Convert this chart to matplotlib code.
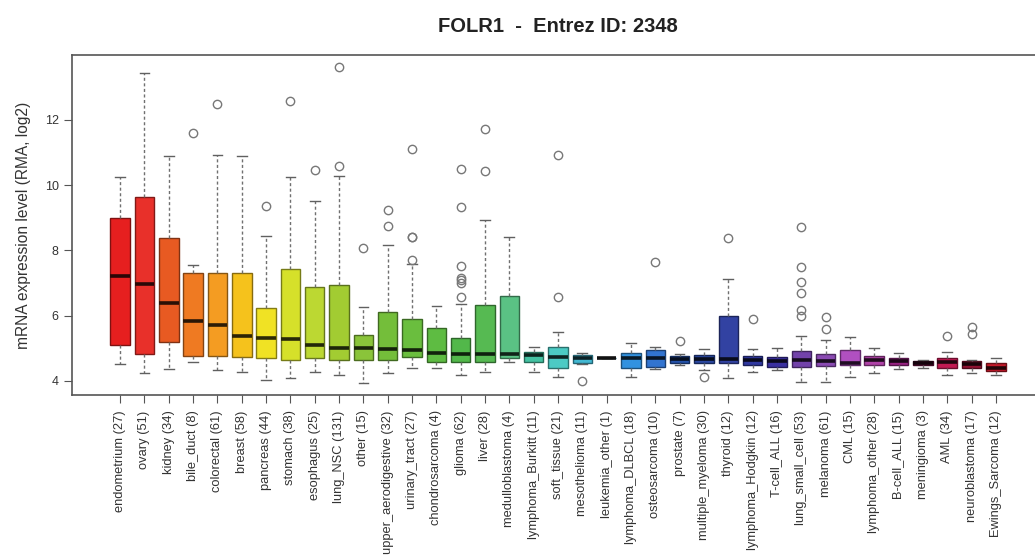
import numpy as np
import matplotlib
matplotlib.use("Agg")
import matplotlib.pyplot as plt
import matplotlib.colors as mcolors

plt.rcParams['font.family'] = ['Liberation Sans', 'DejaVu Sans']

# per-lineage summary stats of FOLR1 expression (RMA, log2)
lineages = ["endometrium", "ovary", "kidney", "bile_duct", "colorectal", "breast",
            "pancreas", "stomach", "esophagus", "lung_NSC", "other",
            "upper_aerodigestive", "urinary_tract", "chondrosarcoma", "glioma", "liver",
            "medulloblastoma", "lymphoma_Burkitt", "soft_tissue", "mesothelioma",
            "leukemia_other", "lymphoma_DLBCL", "osteosarcoma", "prostate",
            "multiple_myeloma", "thyroid", "lymphoma_Hodgkin", "T-cell_ALL",
            "lung_small_cell", "melanoma", "CML", "lymphoma_other", "B-cell_ALL",
            "meningioma", "AML", "neuroblastoma", "Ewings_Sarcoma"]
counts = [27, 51, 34, 8, 61, 58, 44, 38, 25, 131, 15, 32, 27, 4, 62, 28, 4, 11, 21, 11,
          1, 18, 10, 7, 30, 12, 12, 16, 53, 61, 15, 28, 15, 3, 34, 17, 12]

q1 = [5.09, 4.84, 5.18, 4.77, 4.77, 4.72, 4.69, 4.64, 4.69, 4.63, 4.63, 4.64, 4.72,
      4.58, 4.58, 4.58, 4.69, 4.58, 4.41, 4.54, 4.69, 4.41, 4.44, 4.56, 4.54, 4.54,
      4.48, 4.43, 4.43, 4.46, 4.49, 4.49, 4.49, 4.48, 4.41, 4.41, 4.31]
med = [7.21, 6.96, 6.40, 5.84, 5.72, 5.38, 5.32, 5.30, 5.09, 5.02, 5.02, 4.99, 4.94,
       4.87, 4.84, 4.82, 4.82, 4.79, 4.72, 4.69, 4.69, 4.69, 4.69, 4.67, 4.67, 4.67,
       4.65, 4.61, 4.65, 4.61, 4.56, 4.65, 4.60, 4.56, 4.58, 4.51, 4.41]
q3 = [8.98, 9.63, 8.39, 7.31, 7.31, 7.31, 6.23, 7.43, 6.88, 6.94, 5.40, 6.10, 5.89,
      5.63, 5.32, 6.34, 6.61, 4.90, 5.05, 4.79, 4.69, 4.87, 4.95, 4.75, 4.79, 5.98,
      4.77, 4.72, 4.92, 4.82, 4.94, 4.77, 4.69, 4.61, 4.69, 4.61, 4.56]
whis_lo = [4.51, 4.24, 4.36, 4.58, 4.33, 4.29, 4.03, 4.10, 4.28, 4.18, 3.95, 4.24,
           4.41, 4.41, 4.17, 4.29, 4.59, 4.29, 4.12, 4.51, 4.69, 4.13, 4.36, 4.50,
           4.33, 4.10, 4.28, 4.33, 3.97, 3.98, 4.13, 4.24, 4.38, 4.41, 4.17, 4.24, 4.17]
whis_hi = [10.24, 13.43, 10.90, 7.56, 10.94, 10.90, 8.45, 10.26, 9.52, 10.29, 6.26,
           8.18, 7.58, 6.30, 6.35, 8.93, 8.40, 5.05, 5.50, 4.87, 4.69, 5.16, 5.05, 4.82,
           4.99, 7.14, 4.99, 5.02, 5.38, 5.26, 5.35, 5.02, 4.87, 4.65, 4.89, 4.65, 4.69]
outliers = [[], [], [], [11.60], [12.50], [], [9.37], [12.58], [10.46], [10.60, 13.61],
            [8.06], [8.75, 9.25], [7.70, 8.40, 8.40, 11.11], [],
            [6.58, 7.00, 7.09, 7.17, 7.53, 9.34, 10.49], [10.44, 11.72], [], [],
            [6.56, 10.94], [3.99], [], [], [7.65], [5.21], [4.13], [8.37], [5.89], [],
            [5.99, 6.18, 6.71, 7.02, 7.49, 8.72], [5.59, 5.96], [], [], [], [], [5.38],
            [5.43, 5.64], []]

fill_colors = ["#e61f1f", "#e8302a", "#e85a22", "#ef7a22", "#f49c22", "#f5c21c",
               "#f0e224", "#d6e02a", "#bcd832", "#a2cc32", "#8ac43a", "#74be3a",
               "#6abe3e", "#5ebc42", "#52b84a", "#56ba52", "#5ac284", "#44c2a2",
               "#4ccac4", "#42b8d2", "#3aa8d8", "#3292e0", "#3274d0", "#2452aa",
               "#2a48a2", "#3242a2", "#3038a0", "#3a30a0", "#7242aa", "#8a4ab2",
               "#b050c0", "#b042a8", "#982282", "#701242", "#c21a52", "#921232",
               "#c41a2a"]


def darker(c, f):
    r, g, b = mcolors.to_rgb(c)
    return (r * f, g * f, b * f)


stats = []
for i, name in enumerate(lineages):
    stats.append(dict(label="%s (%d)" % (name, counts[i]), q1=q1[i], med=med[i],
                      q3=q3[i], whislo=whis_lo[i], whishi=whis_hi[i],
                      fliers=outliers[i]))

fig = plt.figure(figsize=(10.35, 5.59), dpi=100)
ax = fig.add_axes([72 / 1035, 164 / 559, 972 / 1035, 340 / 559])

pos = np.arange(1, len(lineages) + 1)
bp = ax.bxp(stats, positions=pos, widths=0.8, patch_artist=True, showfliers=True,
            capwidths=0.4,
            whiskerprops=dict(color="#707070", linewidth=1.0, linestyle=(0, (2.2, 1.8))),
            capprops=dict(color="#606060", linewidth=1.0),
            flierprops=dict(marker="o", markersize=6, markerfacecolor="none",
                            markeredgecolor="#777777", markeredgewidth=1.0))

for i, box in enumerate(bp["boxes"]):
    box.set_facecolor(fill_colors[i])
    box.set_edgecolor(darker(fill_colors[i], 0.55))
    box.set_linewidth(1.0)
for i, m in enumerate(bp["medians"]):
    m.set_color(darker(fill_colors[i], 0.18))
    m.set_linewidth(2.6)
    m.set_solid_capstyle("butt")
bp["medians"][20].set_color("#111111")

ax.set_xlim(-0.98, 38.98)
ax.set_ylim(3.57, 13.99)
ax.set_yticks([4, 6, 8, 10, 12])
ax.set_xticks(pos)
ax.set_xticklabels([s["label"] for s in stats], rotation=90, fontsize=9.3, color="#333333")
ax.tick_params(axis="y", labelsize=9, labelcolor="#333333", length=6, color="#555555")
ax.tick_params(axis="x", length=6, color="#555555", pad=5)
for sp in ax.spines.values():
    sp.set_color("#555555")
    sp.set_linewidth(1.2)

ax.set_ylabel("mRNA expression level (RMA, log2)", fontsize=11.2, color="#333333", labelpad=10)
fig.text(558 / 1035, 1 - 26 / 559, "FOLR1  -  Entrez ID: 2348", ha="center", va="center",
         fontsize=14.5, fontweight="bold", color="#222222")

fig.savefig("out.png", dpi=100)
